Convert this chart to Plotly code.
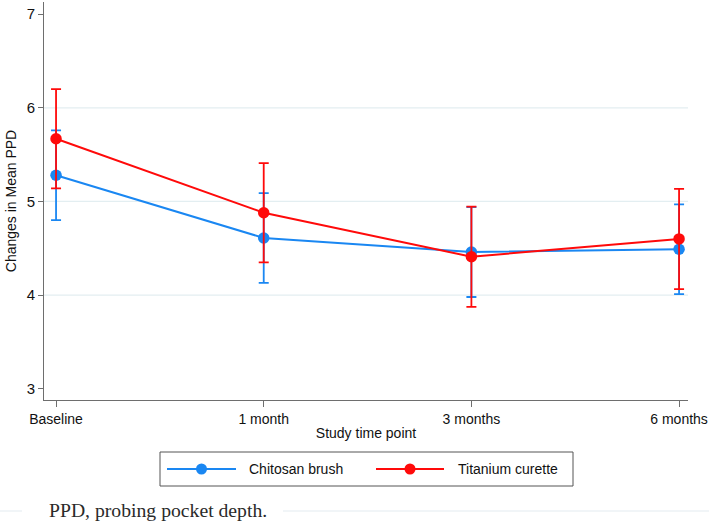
import plotly.graph_objects as go

time_points = ["Baseline", "1 month", "3 months", "6 months"]
x_pos = [0, 1, 2, 3]

chitosan_mean = [5.28, 4.61, 4.46, 4.49]
chitosan_ci = [0.48, 0.48, 0.48, 0.48]

titanium_mean = [5.67, 4.88, 4.41, 4.60]
titanium_ci = [0.53, 0.53, 0.535, 0.535]

series_names = ["Chitosan brush", "Titanium curette"]
y_ticks = [3, 4, 5, 6, 7]
grid_vals = [4, 5, 6]

blue = "#1a87f2"
red = "#ff0a0a"
colors = [blue, red]

W, H = 709, 524
ML, MR, MT, MB = 44, 21, 2, 124
PW, PH = W - ML - MR, H - MT - MB


def px(x):
    return (x - ML) / PW


def py(y):
    return (H - MB - y) / PH


fig = go.Figure()
fig.add_trace(go.Scatter(
    x=x_pos, y=chitosan_mean, name=series_names[0], mode="lines+markers",
    line=dict(color=blue, width=2), marker=dict(color=blue, size=11.5),
    error_y=dict(type="data", array=chitosan_ci, color=blue, thickness=1.8, width=5),
))
fig.add_trace(go.Scatter(
    x=x_pos, y=titanium_mean, name=series_names[1], mode="lines+markers",
    line=dict(color=red, width=2), marker=dict(color=red, size=11.5),
    error_y=dict(type="data", array=titanium_ci, color=red, thickness=1.8, width=5),
))

for g in grid_vals:
    fig.add_shape(type="line", xref="paper", x0=0, x1=1, yref="y", y0=g, y1=g,
                  line=dict(color="#e3eef1", width=1.2), layer="below")

# custom legend (box, line+dot symbols, labels)
fig.add_shape(type="rect", xref="paper", yref="paper", x0=px(160), x1=px(573),
              y0=py(486), y1=py(452), line=dict(color="#555555", width=1), fillcolor="white")
leg_y = py(469)
sym = [(167, 236), (376, 444)]
txt_x = [247, 456]
annots = []
for (a, b), c, name, tx in zip(sym, colors, series_names, txt_x):
    fig.add_shape(type="line", xref="paper", yref="paper", x0=px(a), x1=px(b), y0=leg_y, y1=leg_y,
                  line=dict(color=c, width=2))
    m = (a + b) / 2
    fig.add_shape(type="circle", xref="paper", yref="paper", x0=px(m - 5.5), x1=px(m + 5.5),
                  y0=py(474.5), y1=py(463.5), line=dict(color=c, width=0), fillcolor=c)
    annots.append(dict(text=name, xref="paper", yref="paper", x=px(tx), y=leg_y,
                       xanchor="left", yanchor="middle", showarrow=False,
                       font=dict(size=14, color="#111111")))

# faint rule on caption row
fig.add_shape(type="line", xref="paper", yref="paper", x0=px(0), x1=px(22), y0=py(511), y1=py(511),
              line=dict(color="#e3ebf0", width=1))
fig.add_shape(type="line", xref="paper", yref="paper", x0=px(283), x1=px(709), y0=py(511), y1=py(511),
              line=dict(color="#e3ebf0", width=1))

annots.append(dict(text="PPD, probing pocket depth.", xref="paper", yref="paper",
                   x=px(47), y=py(510), xanchor="left", yanchor="middle", showarrow=False,
                   font=dict(family="Liberation Serif, serif", size=19.7, color="#2a2a2a")))

fig.update_layout(
    width=W, height=H,
    margin=dict(l=ML, r=MR, t=MT, b=MB),
    paper_bgcolor="white", plot_bgcolor="white",
    font=dict(family="Liberation Sans, Arial, sans-serif", color="#111111", size=14),
    showlegend=False,
    xaxis=dict(range=[-0.058, 3.043], tickvals=x_pos, ticktext=time_points, automargin=False,
               showgrid=False, zeroline=False, showline=True, linecolor="#6e6e6e", linewidth=1,
               ticks="outside", ticklen=6, tickcolor="#6e6e6e",
               title=dict(text="Study time point", font=dict(size=14), standoff=2),
               tickfont=dict(size=14)),
    yaxis=dict(range=[2.88, 7.13], tickvals=y_ticks, automargin=False,
               showgrid=False, zeroline=False, showline=True, linecolor="#6e6e6e", linewidth=1,
               ticks="outside", ticklen=5, tickcolor="#6e6e6e",
               title=dict(text="Changes in Mean PPD", font=dict(size=14), standoff=6),
               tickfont=dict(size=15)),
    annotations=annots,
)

fig.write_html("out.html", config={"displayModeBar": False},
               post_script="document.body.style.margin='0px';document.body.style.overflow='hidden';")
